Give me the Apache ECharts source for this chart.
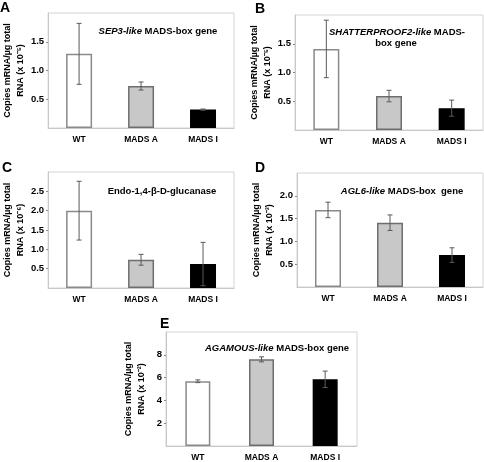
<!DOCTYPE html>
<html><head><meta charset="utf-8">
<script src="https://cdn.jsdelivr.net/npm/echarts@6/dist/echarts.min.js"></script>
<style>html,body{margin:0;padding:0;background:#fff}#c{width:484px;height:462px}</style>
</head><body><div id="c"></div>
<script>
const categories = ['WT', 'MADS A', 'MADS I'];
const meanA = [1.29, 0.73, 0.32];
const errA  = [0.53, 0.07, 0.01];
const meanB = [1.41, 0.59, 0.38];
const errB  = [0.50, 0.10, 0.14];
const meanC = [2.00, 0.73, 0.62];
const errC  = [0.76, 0.14, 0.56];
const meanD = [1.69, 1.41, 0.70];
const errD  = [0.17, 0.17, 0.16];
const meanE = [5.68, 7.60, 5.85];
const errE  = [0.12, 0.22, 0.72];
const yMax = [2, 2, 3, 2.5, 10];
const yStep = [0.5, 0.5, 0.5, 0.5, 2];
const yUnits = ['RNA (x 10⁻⁵)', 'RNA (x 10⁻⁵)', 'RNA (x 10⁻⁶)', 'RNA (x 10⁻³)', 'RNA (x 10⁻²)'];
const panelLetters = ['A', 'B', 'C', 'D', 'E'];

const FONT = "'Liberation Sans',Arial,sans-serif";
const means = [meanA, meanB, meanC, meanD, meanE];
const errs = [errA, errB, errC, errD, errE];
const grids = [
  {left: 46, top: 13, width: 188, height: 115},
  {left: 295, top: 15, width: 188, height: 115},
  {left: 46, top: 172, width: 188, height: 116},
  {left: 297, top: 173, width: 186, height: 114},
  {left: 166, top: 332, width: 191, height: 116}
];
const barColors = [
  {color: '#ffffff', borderColor: '#8a8a8a'},
  {color: '#c8c8c8', borderColor: '#6e6e6e'},
  {color: '#000000', borderColor: '#000000'}
];

const option = {
  backgroundColor: '#fff',
  animation: false,
  grid: grids.map(g => Object.assign({show: true, borderColor: '#d4d4d4', borderWidth: 1, backgroundColor: '#fff'}, g)),
  xAxis: grids.map((g, i) => ({
    type: 'category', gridIndex: i, data: categories,
    axisLine: {lineStyle: {color: '#c8c8c8'}},
    axisTick: {show: false},
    axisLabel: {fontFamily: FONT, fontWeight: 'bold', fontSize: 8.5, color: '#000', margin: 7}
  })),
  yAxis: grids.map((g, i) => ({
    type: 'value', gridIndex: i, min: 0, max: yMax[i], interval: yStep[i],
    splitLine: {show: false},
    axisLine: {show: true, lineStyle: {color: '#c8c8c8'}},
    axisTick: {show: true, length: 2, lineStyle: {color: '#888'}},
    axisLabel: {showMinLabel: false, showMaxLabel: false, fontFamily: FONT, fontWeight: 'bold', fontSize: 9.5, color: '#000', margin: 4,
      formatter: v => i === 4 ? String(v) : v.toFixed(1)},
    name: 'Copies mRNA/µg total\n' + yUnits[i],
    nameLocation: 'middle', nameRotate: 90, nameGap: 18,
    nameTextStyle: {fontFamily: FONT, fontWeight: 'bold', fontSize: 9, color: '#000', lineHeight: 13}
  })),
  series: [],
  graphic: []
};

means.forEach((m, i) => {
  option.series.push({
    type: 'bar', xAxisIndex: i, yAxisIndex: i, barWidth: i === 4 ? 25 : 26,
    data: m.map((v, k) => ({value: v, itemStyle: {color: barColors[k].color, borderColor: barColors[k].borderColor, borderWidth: 1.5}})),
    z: 2
  });
  option.series.push({
    type: 'custom', xAxisIndex: i, yAxisIndex: i, z: 3,
    data: m.map((v, k) => [k, v, errs[i][k]]),
    renderItem: (params, api) => {
      const x = api.value(0), y = api.value(1), e = api.value(2);
      const t = api.coord([x, y + e]), b = api.coord([x, y - e]);
      const hw = 2.5;
      const st = {stroke: '#5a5a5a', lineWidth: 1};
      return {type: 'group', children: [
        {type: 'line', shape: {x1: t[0], y1: t[1], x2: b[0], y2: b[1]}, style: st},
        {type: 'line', shape: {x1: t[0] - hw, y1: t[1], x2: t[0] + hw, y2: t[1]}, style: st},
        {type: 'line', shape: {x1: b[0] - hw, y1: b[1], x2: b[0] + hw, y2: b[1]}, style: st}
      ]};
    }
  });
});

const letterPos = [[0, 1], [255, 2], [2, 161], [255, 161], [160, 317]];
panelLetters.forEach((L, i) => {
  option.graphic.push({type: 'text', x: letterPos[i][0], y: letterPos[i][1],
    style: {text: L, font: "bold 14px 'Liberation Sans',Arial,sans-serif", fill: '#000'}});
});

const rich = {
  i: {fontFamily: FONT, fontStyle: 'italic', fontWeight: 'bold', fontSize: 9.5, color: '#000'},
  n: {fontFamily: FONT, fontWeight: 'bold', fontSize: 9.5, color: '#000'}
};
const titles = [
  {x: 158, y: 31, text: '{i|SEP3-like}{n| MADS-box gene}'},
  {x: 397, y: 32, text: '{i|SHATTERPROOF2-like}{n| MADS-}'},
  {x: 396, y: 43, text: '{n|box gene}'},
  {x: 162, y: 191, text: '{n|Endo-1,4-β-D-glucanase}'},
  {x: 402, y: 191, text: '{i|AGL6-like}{n| MADS-box  gene}'},
  {x: 277, y: 348, text: '{i|AGAMOUS-like}{n| MADS-box gene}'}
];
titles.forEach(t => {
  option.graphic.push({type: 'text', x: t.x, y: t.y, z: 10,
    style: {text: t.text, rich: rich, align: 'center', verticalAlign: 'middle', fill: '#000'}});
});

const chart = echarts.init(document.getElementById('c'), null, {renderer: 'canvas'});
chart.setOption(option);
</script>
</body></html>
